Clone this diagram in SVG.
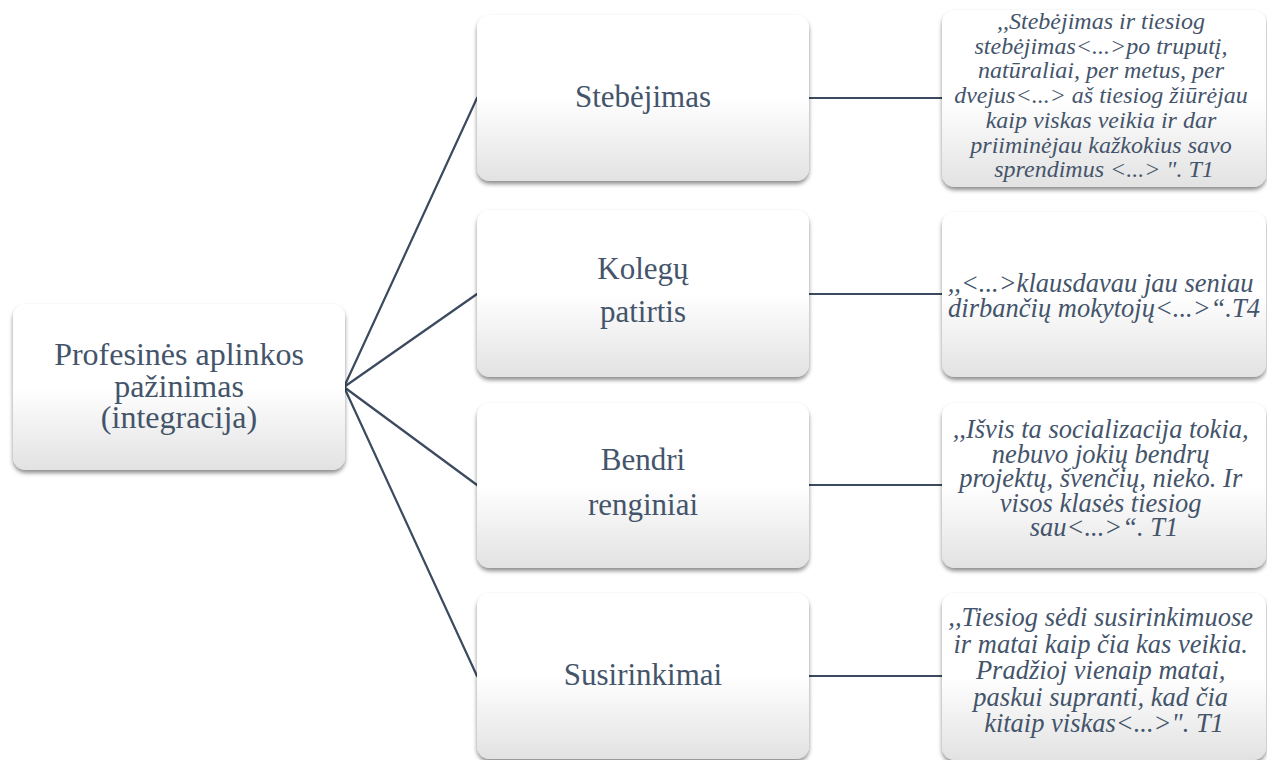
<svg xmlns="http://www.w3.org/2000/svg" width="1267" height="760" viewBox="0 0 1267 760">
  <style>
    .box { fill: url(#boxFill); filter: url(#soft); }
    .link { stroke: #3b4a5f; stroke-width: 2.2; fill: none; stroke-linecap: round; }
    .label { font-family: "Liberation Serif", "Times New Roman", serif; fill: #44546a; text-anchor: middle; }
    .main { font-size: 32px; }
    .topic { font-size: 31px; }
    .quote { font-style: italic; }
  </style>
  <defs>
    <linearGradient id="boxFill" x1="0" y1="0" x2="0" y2="1">
      <stop offset="0" stop-color="#ffffff"/>
      <stop offset="0.5" stop-color="#ffffff"/>
      <stop offset="1" stop-color="#e2e2e2"/>
    </linearGradient>
    <filter id="soft" x="-10%" y="-10%" width="120%" height="125%">
      <feDropShadow dx="0" dy="3" stdDeviation="2.2" flood-color="#000000" flood-opacity="0.45"/>
    </filter>
  </defs>
  <rect width="1267" height="760" fill="#ffffff"/>

  <!-- connectors -->
  <g id="connectors">
    <line class="link" x1="344" y1="387" x2="477" y2="98"/>
    <line class="link" x1="344" y1="387" x2="477" y2="294"/>
    <line class="link" x1="344" y1="387" x2="477" y2="485"/>
    <line class="link" x1="344" y1="387" x2="477" y2="676"/>
    <line class="link" x1="809" y1="98" x2="942" y2="98"/>
    <line class="link" x1="809" y1="294" x2="942" y2="294"/>
    <line class="link" x1="809" y1="485" x2="942" y2="485"/>
    <line class="link" x1="809" y1="676" x2="942" y2="676"/>
  </g>

  <!-- root -->
  <g id="root">
    <rect class="box" x="13" y="304" width="332" height="166" rx="13"/>
    <text class="label main" x="179" y="365">Profesinės aplinkos</text>
    <text class="label main" x="179" y="397">pažinimas</text>
    <text class="label main" x="179" y="428">(integracija)</text>
  </g>

  <!-- topics -->
  <g id="stebejimas">
    <rect class="box" x="477" y="15" width="332" height="166" rx="13"/>
    <text class="label topic" x="643" y="107">Stebėjimas</text>
  </g>
  <g id="kolegu-patirtis">
    <rect class="box" x="477" y="210" width="332" height="167" rx="13"/>
    <text class="label topic" x="643" y="279">Kolegų</text>
    <text class="label topic" x="643" y="322">patirtis</text>
  </g>
  <g id="bendri-renginiai">
    <rect class="box" x="477" y="403" width="332" height="165" rx="13"/>
    <text class="label topic" x="643" y="470">Bendri</text>
    <text class="label topic" x="643" y="515">renginiai</text>
  </g>
  <g id="susirinkimai">
    <rect class="box" x="477" y="593" width="332" height="166" rx="13"/>
    <text class="label topic" x="643" y="685">Susirinkimai</text>
  </g>

  <!-- quotes -->
  <g id="quote-stebejimas">
    <rect class="box" x="942" y="10" width="324" height="177" rx="13"/>
    <text class="label quote" font-size="24" x="1104">
      <tspan x="1104" y="29">,,Stebėjimas ir tiesiog</tspan>
      <tspan x="1104" y="53.7">stebėjimas&lt;...&gt;po truputį,</tspan>
      <tspan x="1104" y="78.4">natūraliai, per metus, per</tspan>
      <tspan x="1104" y="103.1">dvejus&lt;...&gt; aš tiesiog žiūrėjau</tspan>
      <tspan x="1104" y="127.8">kaip viskas veikia ir dar</tspan>
      <tspan x="1104" y="152.5">priiminėjau kažkokius savo</tspan>
      <tspan x="1104" y="177.2">sprendimus &lt;...&gt; ". T1</tspan>
    </text>
  </g>
  <g id="quote-kolegu">
    <rect class="box" x="942" y="212" width="324" height="165" rx="13"/>
    <text class="label quote" font-size="26.5" x="1104">
      <tspan x="1104" y="292">,,&lt;...&gt;klausdavau jau seniau</tspan>
      <tspan x="1104" y="317">dirbančių mokytojų&lt;...&gt;“.T4</tspan>
    </text>
  </g>
  <g id="quote-renginiai">
    <rect class="box" x="942" y="403" width="324" height="165" rx="13"/>
    <text class="label quote" font-size="26.5" x="1104">
      <tspan x="1104" y="438">,,Išvis ta socializacija tokia,</tspan>
      <tspan x="1104" y="462.5">nebuvo jokių bendrų</tspan>
      <tspan x="1104" y="487">projektų, švenčių, nieko. Ir</tspan>
      <tspan x="1104" y="511.5">visos klasės tiesiog</tspan>
      <tspan x="1104" y="536">sau&lt;...&gt;“. T1</tspan>
    </text>
  </g>
  <g id="quote-susirinkimai">
    <rect class="box" x="942" y="593" width="324" height="167" rx="13"/>
    <text class="label quote" font-size="26.5" x="1104">
      <tspan x="1104" y="626">,,Tiesiog sėdi susirinkimuose</tspan>
      <tspan x="1104" y="652.5">ir matai kaip čia kas veikia.</tspan>
      <tspan x="1104" y="679">Pradžioj vienaip matai,</tspan>
      <tspan x="1104" y="705.5">paskui supranti, kad čia</tspan>
      <tspan x="1104" y="732">kitaip viskas&lt;...&gt;". T1</tspan>
    </text>
  </g>
</svg>
